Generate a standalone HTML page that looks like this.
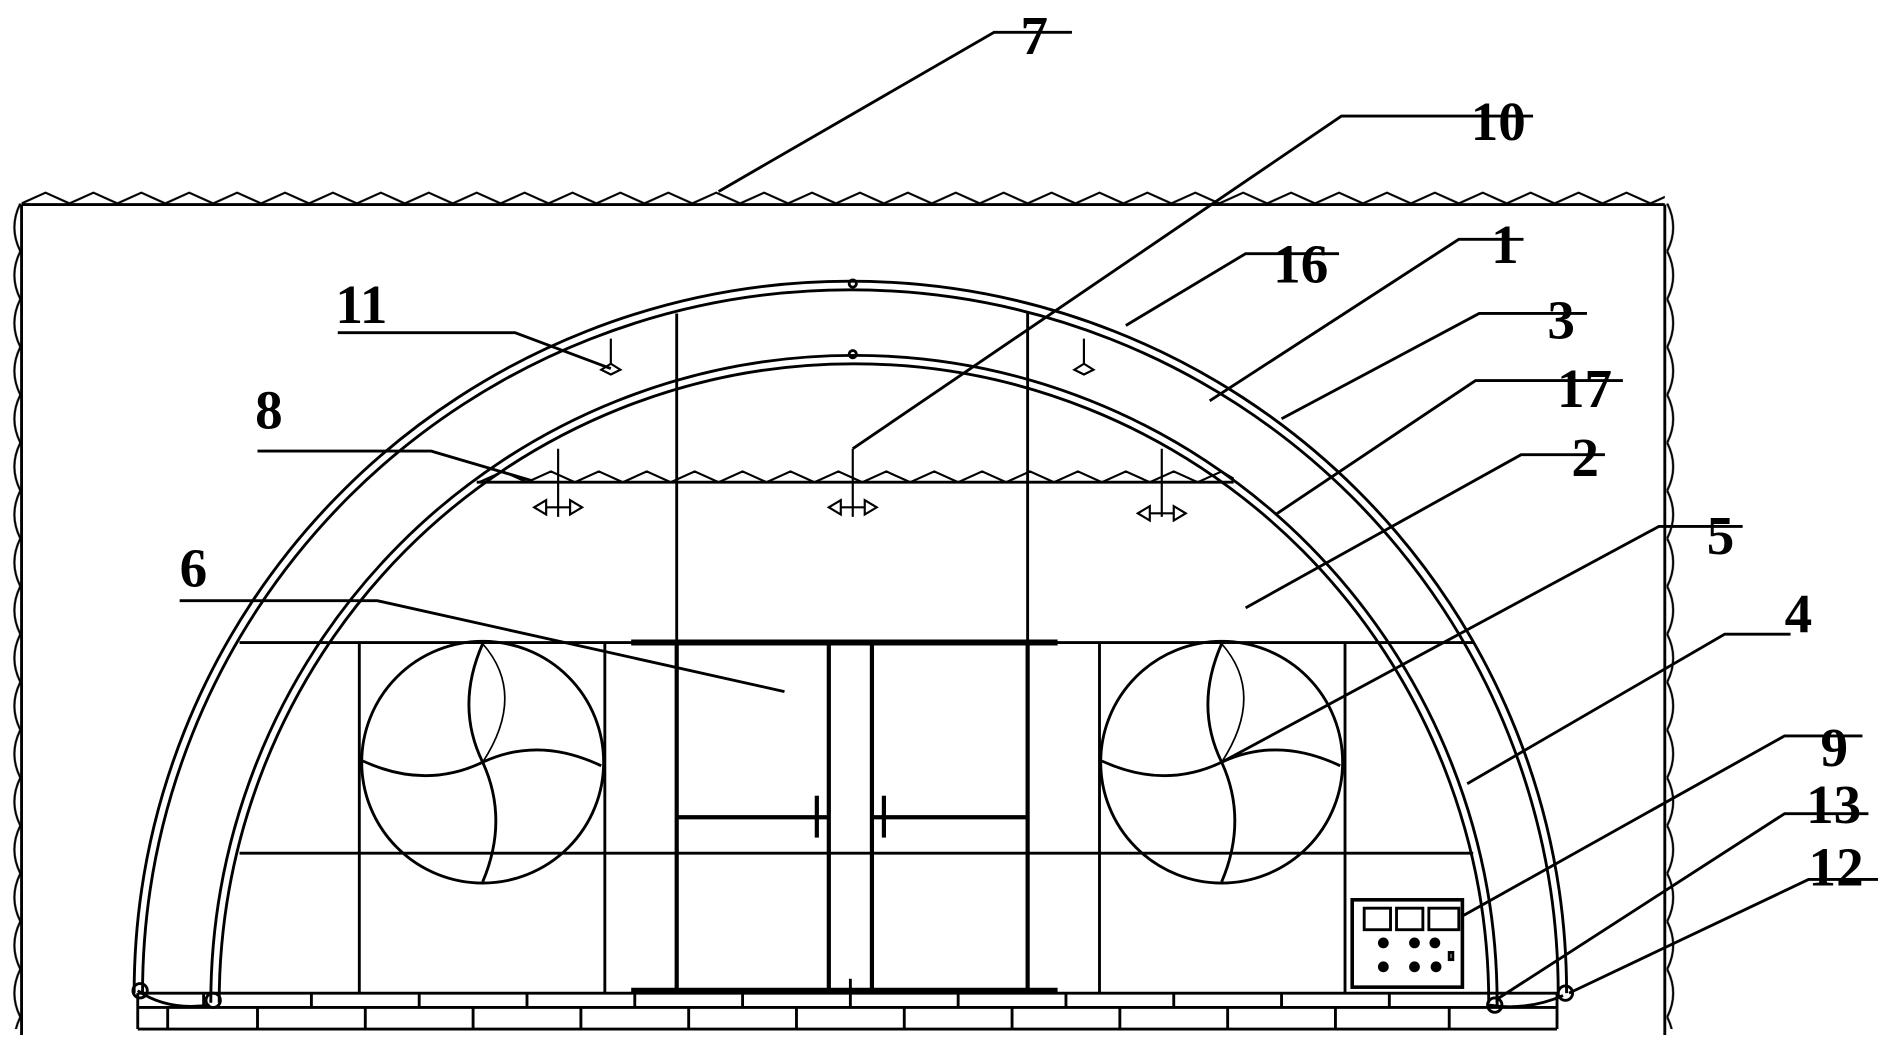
<!DOCTYPE html>
<html><head><meta charset="utf-8"><style>
html,body{margin:0;padding:0;background:#fff;width:1878px;height:1041px;overflow:hidden}
svg{display:block}
text{font-family:"Liberation Serif",serif;font-size:46px;fill:#000;font-weight:bold}
</style></head><body>
<svg width="1878" height="1041" viewBox="0 0 1568 870" preserveAspectRatio="none" xmlns="http://www.w3.org/2000/svg">
<defs>
<pattern id="wt" x="18" y="158" width="40" height="14" patternUnits="userSpaceOnUse">
<path d="M0 12 L20 3 L40 12" fill="none" stroke="#000" stroke-width="1.8"/>
</pattern>
<pattern id="wl" x="5" y="170" width="14" height="40" patternUnits="userSpaceOnUse">
<path d="M12 0 Q2 20 12 40" fill="none" stroke="#000" stroke-width="1.8"/>
</pattern>
<pattern id="wr" x="1390" y="170" width="14" height="40" patternUnits="userSpaceOnUse">
<path d="M2 0 Q12 20 2 40" fill="none" stroke="#000" stroke-width="1.8"/>
</pattern>
</defs>
<g fill="none" stroke="#000" stroke-width="2.4">
<rect x="18" y="158" width="1372" height="14" fill="url(#wt)" stroke="none"/>
<line x1="18" y1="171" x2="1390" y2="171"/>
<rect x="5" y="170" width="14" height="690" fill="url(#wl)" stroke="none"/>
<rect x="1390" y="170" width="14" height="690" fill="url(#wr)" stroke="none"/>
<line x1="18" y1="171" x2="18" y2="865"/>
<line x1="1390" y1="171" x2="1390" y2="865"/>
<path d="M112 830 A598 595 0 0 1 1308 830"/>
<path d="M119 830 A591 588 0 0 1 1301 830"/>
<path d="M176 838 A537 541 0 0 1 1250 838"/>
<path d="M183 838 A530 534 0 0 1 1243 838"/>
<circle cx="117" cy="828" r="6"/><circle cx="178" cy="836" r="6"/>
<circle cx="1248" cy="840" r="6"/><circle cx="1307" cy="830" r="6"/>
<circle cx="712" cy="237" r="3"/><circle cx="712" cy="296" r="3"/>
<line x1="398" y1="403" x2="1030" y2="403"/>
<path d="M400 403 L420 394 L440 403 L460 394 L480 403 L500 394 L520 403 L540 394 L560 403 L580 394 L600 403 L620 394 L640 403 L660 394 L680 403 L700 394 L720 403 L740 394 L760 403 L780 394 L800 403 L820 394 L840 403 L860 394 L880 403 L900 394 L920 403 L940 394 L960 403 L980 394 L1000 403 L1020 394 L1030 400" stroke-width="1.8"/>
<line x1="200" y1="537" x2="1230" y2="537"/>
<line x1="200" y1="713" x2="1230" y2="713"/>
<line x1="565" y1="262" x2="565" y2="830"/>
<line x1="858" y1="262" x2="858" y2="830"/>
<line x1="300" y1="537" x2="300" y2="830"/><line x1="505" y1="537" x2="505" y2="830"/>
<line x1="918" y1="537" x2="918" y2="830"/><line x1="1123" y1="537" x2="1123" y2="830"/>
<circle cx="403" cy="637" r="101"/><circle cx="1020" cy="637" r="101"/>
<g id="fan1">
<path d="M403 637 Q380 590 403 538"/>
<path d="M403 637 Q450 615 502 640"/>
<path d="M403 637 Q425 685 403 737"/>
<path d="M403 637 Q355 660 303 636"/>
<path d="M403 637 Q440 580 403 538" stroke-width="1.4"/>
</g>
<use href="#fan1" transform="translate(617 0)"/>
<line x1="527" y1="537" x2="883" y2="537" stroke-width="5"/>
<line x1="527" y1="828" x2="883" y2="828" stroke-width="5"/>
<line x1="565" y1="537" x2="565" y2="828" stroke-width="3.5"/>
<line x1="692" y1="537" x2="692" y2="828" stroke-width="3.5"/>
<line x1="728" y1="537" x2="728" y2="828" stroke-width="3.5"/>
<line x1="858" y1="537" x2="858" y2="828" stroke-width="3.5"/>
<line x1="565" y1="683" x2="692" y2="683" stroke-width="3.5"/>
<line x1="728" y1="683" x2="858" y2="683" stroke-width="3.5"/>
<line x1="682" y1="665" x2="682" y2="700" stroke-width="3.5"/>
<line x1="738" y1="665" x2="738" y2="700" stroke-width="3.5"/>
<line x1="710" y1="818" x2="710" y2="830"/>
<path d="M115 828 Q140 845 175 840"/>
<path d="M1243 840 Q1275 845 1305 832"/>
<line x1="115" y1="830" x2="1300" y2="830"/>
<line x1="115" y1="842" x2="1300" y2="842"/>
<line x1="115" y1="860" x2="1300" y2="860"/>
<path d="M115 830V860 M1300 830V860"/>
<path d="M170 830V842 M260 830V842 M350 830V842 M440 830V842 M530 830V842 M620 830V842 M710 830V842 M800 830V842 M890 830V842 M980 830V842 M1070 830V842 M1160 830V842 M1250 830V842"/>
<path d="M140 842V860 M215 842V860 M305 842V860 M395 842V860 M485 842V860 M575 842V860 M665 842V860 M755 842V860 M845 842V860 M935 842V860 M1025 842V860 M1115 842V860 M1210 842V860"/>
<rect x="1129" y="752" width="92" height="73" stroke-width="3"/>
<rect x="1139" y="759" width="22" height="18"/><rect x="1166" y="759" width="22" height="18"/><rect x="1193" y="759" width="25" height="18"/>
<g fill="#000" stroke="none">
<circle cx="1155" cy="788" r="4.5"/><circle cx="1181" cy="788" r="4.5"/><circle cx="1198" cy="788" r="4.5"/>
<circle cx="1155" cy="808" r="4.5"/><circle cx="1181" cy="808" r="4.5"/><circle cx="1199" cy="808" r="4.5"/>
</g>
<rect x="1210" y="796" width="3" height="6"/>
<g stroke-width="1.8">
<path d="M510 283V305 M502 309 L510 304 L518 309 L510 313Z"/>
<path d="M905 283V305 M897 309 L905 304 L913 309 L905 313Z"/>
<path d="M466 375V432 M446 424 L456 418 V430Z M486 424 L476 418 V430Z M456 424H476"/>
<path d="M712 375V432 M692 424 L702 418 V430Z M732 424 L722 418 V430Z M702 424H722"/>
<path d="M970 375V432 M950 429 L960 423 V435Z M990 429 L980 423 V435Z M960 429H980"/>
</g>
<path d="M600 160 L830 27 H895"/>
<path d="M712 375 L1120 97 H1280"/>
<path d="M940 272 L1040 212 H1118"/>
<path d="M1010 335 L1218 200 H1272"/>
<path d="M1070 350 L1235 262 H1325"/>
<path d="M1065 430 L1232 318 H1355"/>
<path d="M1040 508 L1270 380 H1340"/>
<path d="M1020 637 L1385 440 H1455"/>
<path d="M1225 655 L1440 530 H1495"/>
<path d="M1222 765 L1490 615 H1555"/>
<path d="M1250 835 L1490 680 H1560"/>
<path d="M1310 830 L1510 735 H1568"/>
<path d="M510 308 L430 278 H282"/>
<path d="M445 402 L360 377 H215"/>
<path d="M655 578 L315 502 H150"/>
</g>
<text x="852" y="45">7</text>
<text x="1228" y="117">10</text>
<text x="1063" y="236">16</text>
<text x="1245" y="220">1</text>
<text x="1292" y="283">3</text>
<text x="1300" y="340">17</text>
<text x="1312" y="398">2</text>
<text x="1425" y="463">5</text>
<text x="1490" y="528">4</text>
<text x="1520" y="640">9</text>
<text x="1508" y="688">13</text>
<text x="1510" y="740">12</text>
<text x="280" y="270">11</text>
<text x="213" y="358">8</text>
<text x="150" y="490">6</text>
</svg>
</body></html>
